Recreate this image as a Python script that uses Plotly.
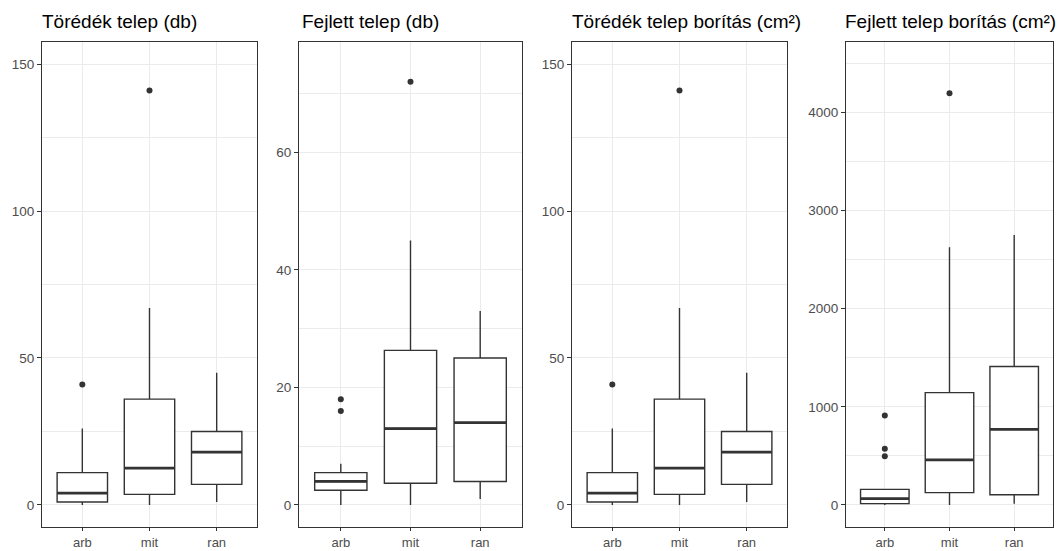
import plotly.graph_objects as go

W, H = 1061, 551

categories = ["arb", "mit", "ran"]

titles = ["Törédék telep (db)", "Fejlett telep (db)",
          "Törédék telep borítás (cm²)", "Fejlett telep borítás (cm²)"]

# Panel 1: Töredék telep (db)
p1_low = [0, 0, 1]
p1_q1 = [1, 3.6, 7]
p1_med = [4, 12.5, 18]
p1_q3 = [11, 36, 25]
p1_high = [26, 67, 45]
p1_out_x = ["arb", "mit"]
p1_out_y = [41, 141]

# Panel 2: Fejlett telep (db)
p2_low = [0, 0, 1]
p2_q1 = [2.5, 3.7, 4]
p2_med = [4, 13, 14]
p2_q3 = [5.5, 26.3, 25]
p2_high = [7, 45, 33]
p2_out_x = ["arb", "arb", "mit"]
p2_out_y = [18, 16, 72]

# Panel 3: Töredék telep borítás (cm²)
p3_low = [0, 0, 1]
p3_q1 = [1, 3.6, 7]
p3_med = [4, 12.5, 18]
p3_q3 = [11, 36, 25]
p3_high = [26, 67, 45]
p3_out_x = ["arb", "mit"]
p3_out_y = [41, 141]

# Panel 4: Fejlett telep borítás (cm²)
p4_low = [0, 0, 13]
p4_q1 = [13, 125, 104]
p4_med = [64, 459, 770]
p4_q3 = [158, 1145, 1411]
p4_high = [165, 2627, 2752]
p4_out_x = ["arb", "arb", "arb", "mit"]
p4_out_y = [911, 573, 496, 4195]

panels = [
    (p1_low, p1_q1, p1_med, p1_q3, p1_high, p1_out_x, p1_out_y),
    (p2_low, p2_q1, p2_med, p2_q3, p2_high, p2_out_x, p2_out_y),
    (p3_low, p3_q1, p3_med, p3_q3, p3_high, p3_out_x, p3_out_y),
    (p4_low, p4_q1, p4_med, p4_q3, p4_high, p4_out_x, p4_out_y),
]

y_ranges = [[-7.5, 157.5], [-3.75, 78.75], [-7.5, 157.5], [-225, 4718]]
y_dticks = [50, 20, 50, 1000]
x_px = [(42, 257), (299, 522), (572, 787), (846, 1053)]
title_x = [40, 300, 570, 843]

DARK = "#333333"
GRID = "#ebebeb"
FONT = "Liberation Sans, Arial, sans-serif"

fig = go.Figure()
layout = dict(
    width=W, height=H, margin=dict(l=0, r=0, t=0, b=0, pad=0),
    paper_bgcolor="white", plot_bgcolor="white",
    showlegend=False, boxmode="overlay",
    font=dict(family=FONT),
    annotations=[],
)

for i, (low, q1, med, q3, high, ox, oy) in enumerate(panels):
    n = "" if i == 0 else str(i + 1)
    xa, ya = "x" + n, "y" + n
    fig.add_trace(go.Box(
        x=categories, q1=q1, median=med, q3=q3,
        lowerfence=low, upperfence=high,
        boxpoints=False, width=0.75, whiskerwidth=0,
        fillcolor="white", line=dict(color=DARK, width=1.4),
        xaxis=xa, yaxis=ya, hoverinfo="skip"))
    # thicker median line
    fig.add_trace(go.Box(
        x=categories, q1=med, median=med, q3=med,
        lowerfence=med, upperfence=med,
        boxpoints=False, width=0.75, whiskerwidth=0,
        fillcolor="rgba(0,0,0,0)", line=dict(color=DARK, width=2.8),
        xaxis=xa, yaxis=ya, hoverinfo="skip"))
    fig.add_trace(go.Scatter(
        x=ox, y=oy, mode="markers",
        marker=dict(color=DARK, size=6),
        xaxis=xa, yaxis=ya, hoverinfo="skip"))

    x0, x1 = x_px[i]
    layout["xaxis" + n] = dict(
        domain=[x0 / W, x1 / W], anchor=ya, automargin=False,
        type="category", categoryorder="array", categoryarray=categories,
        range=[-0.6, 2.6],
        showgrid=True, gridcolor=GRID, gridwidth=1.2,
        showline=True, mirror=True, linecolor=DARK, linewidth=1,
        ticks="outside", ticklen=3, tickcolor=DARK, tickwidth=1,
        tickfont=dict(size=13, color="#4d4d4d", family=FONT),
        zeroline=False, fixedrange=True,
    )
    layout["yaxis" + n] = dict(
        domain=[24 / H, 1 - 42 / H], anchor=xa, automargin=False,
        range=y_ranges[i], dtick=y_dticks[i], tick0=0,
        showgrid=True, gridcolor=GRID, gridwidth=1.2,
        minor=dict(dtick=y_dticks[i] / 2, showgrid=True, gridcolor=GRID, gridwidth=0.6),
        showline=True, mirror=True, linecolor=DARK, linewidth=1,
        ticks="outside", ticklen=4, tickcolor=DARK, tickwidth=1,
        tickfont=dict(size=13.5, color="#4d4d4d", family=FONT),
        zeroline=False, fixedrange=True,
    )
    layout["annotations"].append(dict(
        text=titles[i], xref="paper", yref="paper",
        x=title_x[i] / W, y=1 - 22 / H, xanchor="left", yanchor="middle",
        showarrow=False, font=dict(size=19, color="black", family=FONT)))

fig.update_layout(**layout)
fig.write_html("out.html")
